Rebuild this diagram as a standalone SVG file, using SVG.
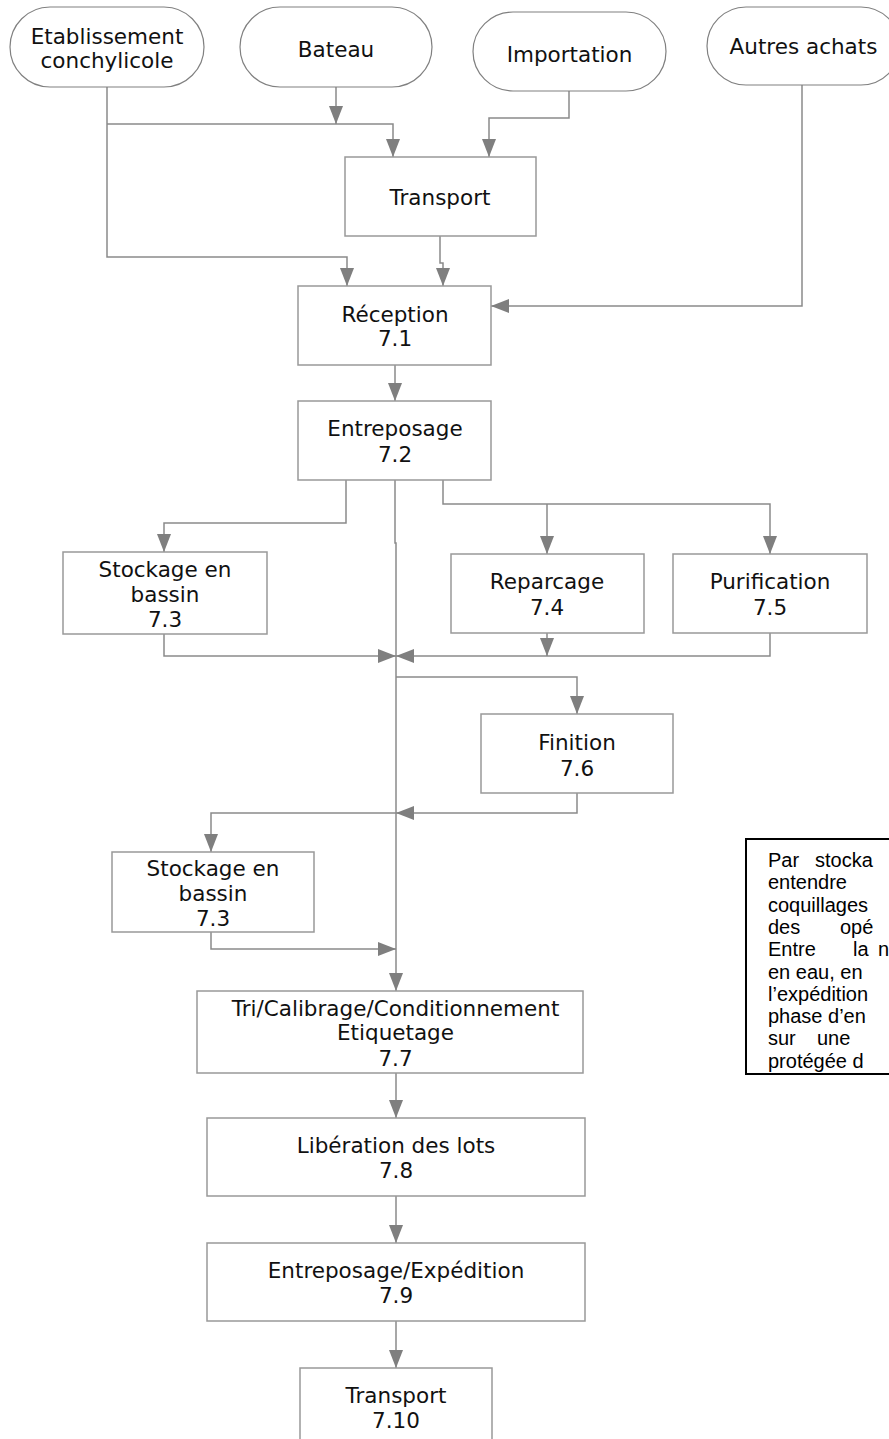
<svg xmlns="http://www.w3.org/2000/svg" width="889" height="1439" viewBox="0 0 889 1439">
  <style>
    .term { fill: #ffffff; stroke: #808080; stroke-width: 1.2; }
    .box { fill: #ffffff; stroke: #999999; stroke-width: 1.5; }
    .lbl { font-family: "DejaVu Sans", Verdana, sans-serif; font-size: 21.5px; fill: #111111; text-anchor: middle; }
    .wire { fill: none; stroke: #8a8a8a; stroke-width: 1.5; marker-end: url(#arrow); }
    .note { fill: #ffffff; stroke: #000000; stroke-width: 2; }
    .notetxt { font-family: "Liberation Sans", Arial, sans-serif; font-size: 20px; fill: #000000; }
  </style>
  <defs>
    <marker id="arrow" markerUnits="userSpaceOnUse" markerWidth="19" markerHeight="14" refX="18" refY="7" orient="auto">
      <path d="M0,0 L18,7 L0,14 z" fill="#7f7f7f"/>
    </marker>
  </defs>
  <rect width="889" height="1439" fill="#ffffff"/>

  <!-- connectors -->
  <g id="connectors">
    <path class="wire" d="M107,87 V257 H347 V286"/>
    <path class="wire" d="M107,124 H393 V157"/>
    <path class="wire" d="M336,87 V124"/>
    <path class="wire" d="M569,91 V118 H489 V157"/>
    <path class="wire" d="M802,85 V306 H491"/>
    <path class="wire" d="M440,236 V263 H443 V286"/>
    <path class="wire" d="M395,365 V401"/>
    <path class="wire" d="M346,480 V523 H164 V552"/>
    <path class="wire" d="M443,480 V504 H770 V554"/>
    <path class="wire" d="M547,504 V554"/>
    <path class="wire" d="M395,480 V543 H396 V991"/>
    <path class="wire" d="M164,634 V656 H396"/>
    <path class="wire" d="M770,633 V656 H396"/>
    <path class="wire" d="M547,633 V656"/>
    <path class="wire" d="M396,677 H577 V714"/>
    <path class="wire" d="M577,793 V813 H396"/>
    <path class="wire" d="M396,813 H211 V852"/>
    <path class="wire" d="M211,932 V949 H396"/>
    <path class="wire" d="M396,1073 V1118"/>
    <path class="wire" d="M396,1196 V1243"/>
    <path class="wire" d="M396,1321 V1368"/>
  </g>

  <!-- sources -->
  <g id="src-etablissement">
    <rect class="term" x="10" y="7" width="194" height="80" rx="40" ry="40"/>
    <text class="lbl" x="107" y="44">Etablissement</text>
    <text class="lbl" x="107" y="68">conchylicole</text>
  </g>
  <g id="src-bateau">
    <rect class="term" x="240" y="7" width="192" height="80" rx="40" ry="40"/>
    <text class="lbl" x="336" y="57">Bateau</text>
  </g>
  <g id="src-importation">
    <rect class="term" x="473" y="12" width="193" height="79" rx="40" ry="40"/>
    <text class="lbl" x="569.5" y="62">Importation</text>
  </g>
  <g id="src-autres">
    <rect class="term" x="707" y="7" width="193" height="78" rx="39" ry="39"/>
    <text class="lbl" x="803.5" y="54">Autres achats</text>
  </g>

  <!-- process steps -->
  <g id="transport-in">
    <rect class="box" x="345" y="157" width="191" height="79"/>
    <text class="lbl" x="440" y="205">Transport</text>
  </g>
  <g id="reception">
    <rect class="box" x="298" y="286" width="193" height="79"/>
    <text class="lbl" x="395" y="322">Réception</text>
    <text class="lbl" x="395" y="346">7.1</text>
  </g>
  <g id="entreposage">
    <rect class="box" x="298" y="401" width="193" height="79"/>
    <text class="lbl" x="395" y="436">Entreposage</text>
    <text class="lbl" x="395" y="462">7.2</text>
  </g>
  <g id="stockage-1">
    <rect class="box" x="63" y="552" width="204" height="82"/>
    <text class="lbl" x="165" y="577">Stockage en</text>
    <text class="lbl" x="165" y="602">bassin</text>
    <text class="lbl" x="165" y="627">7.3</text>
  </g>
  <g id="reparcage">
    <rect class="box" x="451" y="554" width="193" height="79"/>
    <text class="lbl" x="547" y="589">Reparcage</text>
    <text class="lbl" x="547" y="615">7.4</text>
  </g>
  <g id="purification">
    <rect class="box" x="673" y="554" width="194" height="79"/>
    <text class="lbl" x="770" y="589">Purification</text>
    <text class="lbl" x="770" y="615">7.5</text>
  </g>
  <g id="finition">
    <rect class="box" x="481" y="714" width="192" height="79"/>
    <text class="lbl" x="577" y="750">Finition</text>
    <text class="lbl" x="577" y="776">7.6</text>
  </g>
  <g id="stockage-2">
    <rect class="box" x="112" y="852" width="202" height="80"/>
    <text class="lbl" x="213" y="876">Stockage en</text>
    <text class="lbl" x="213" y="901">bassin</text>
    <text class="lbl" x="213" y="926">7.3</text>
  </g>
  <g id="tri">
    <rect class="box" x="197" y="991" width="386" height="82"/>
    <text class="lbl" x="395.5" y="1016">Tri/Calibrage/Conditionnement</text>
    <text class="lbl" x="395.5" y="1040">Etiquetage</text>
    <text class="lbl" x="395.5" y="1066">7.7</text>
  </g>
  <g id="liberation">
    <rect class="box" x="207" y="1118" width="378" height="78"/>
    <text class="lbl" x="396" y="1153">Libération des lots</text>
    <text class="lbl" x="396" y="1178">7.8</text>
  </g>
  <g id="expedition">
    <rect class="box" x="207" y="1243" width="378" height="78"/>
    <text class="lbl" x="396" y="1278">Entreposage/Expédition</text>
    <text class="lbl" x="396" y="1303">7.9</text>
  </g>
  <g id="transport-out">
    <rect class="box" x="300" y="1368" width="192" height="82"/>
    <text class="lbl" x="396" y="1403">Transport</text>
    <text class="lbl" x="396" y="1428">7.10</text>
  </g>

  <!-- side note: one justified paragraph running past the right edge -->
  <g id="note">
    <rect class="note" x="746" y="839" width="200" height="235"/>
    <text class="notetxt">
      <tspan x="768" y="867">Par</tspan><tspan x="815" y="867">stocka</tspan>
      <tspan x="768" y="889.3">entendre</tspan>
      <tspan x="768" y="911.6">coquillages</tspan>
      <tspan x="768" y="933.9">des</tspan><tspan x="840" y="933.9">opé</tspan>
      <tspan x="768" y="956.2">Entre</tspan><tspan x="853" y="956.2">la</tspan><tspan x="878" y="956.2">n</tspan>
      <tspan x="768" y="978.5">en eau, en</tspan>
      <tspan x="768" y="1000.8">l’expédition</tspan>
      <tspan x="768" y="1023.1">phase d’en</tspan>
      <tspan x="768" y="1045.4">sur</tspan><tspan x="817" y="1045.4">une</tspan>
      <tspan x="768" y="1067.7">protégée d</tspan>
    </text>
  </g>
</svg>
